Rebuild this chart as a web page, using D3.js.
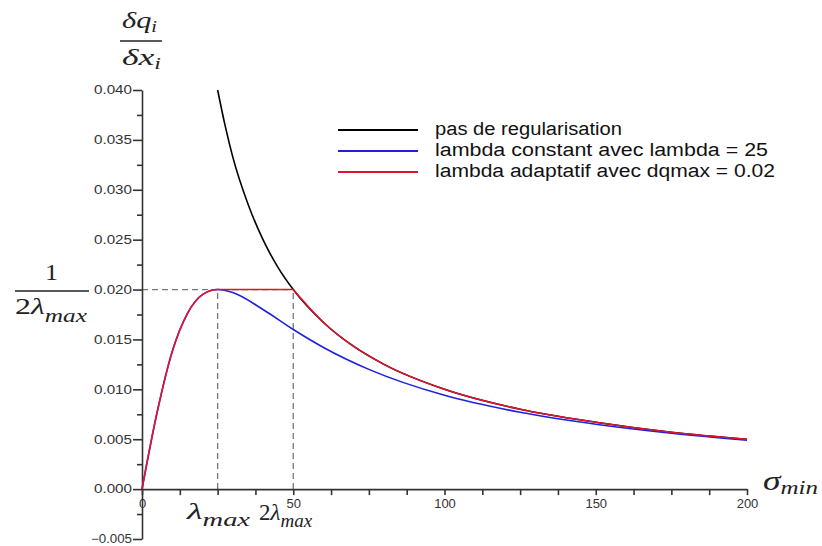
<!DOCTYPE html>
<html lang="en">
<head>
<meta charset="UTF-8">
<title>Regularisation</title>
<style>
    body { margin: 0; background: #fff; }
    svg text { font-family: 'Liberation Sans', Arial, sans-serif; }
    .axis path, .axis line { stroke: #333; stroke-width: 1.6; }
    .axis text { fill: #333; }
</style>
</head>
<body>
<svg id="chart" width="822" height="546"></svg>
<script src="https://d3js.org/d3.v7.min.js"></script>
<script>
    // values
    const sigmaBlack = [25, 27.5, 30, 35, 40, 45, 50, 60, 70, 80, 100, 125, 150, 175, 200];
    const noReg = [0.040, 0.0364, 0.0333, 0.0286, 0.025, 0.0222, 0.020, 0.0167, 0.0143, 0.0125, 0.010, 0.008, 0.0067, 0.0057, 0.005];

    const sigmaBlue = [0, 5, 10, 15, 20, 25, 30, 40, 50, 60, 75, 100, 125, 150, 175, 200];
    const lambdaConst = [0, 0.0077, 0.0138, 0.0176, 0.0195, 0.020, 0.0197, 0.018, 0.016, 0.0142, 0.012, 0.0094, 0.0077, 0.0065, 0.0056, 0.0049];

    const sigmaRed = [0, 5, 10, 15, 20, 25, 37.5, 50, 60, 70, 80, 100, 125, 150, 175, 200];
    const lambdaAdapt = [0, 0.0077, 0.0138, 0.0176, 0.0195, 0.020, 0.020, 0.020, 0.0167, 0.0143, 0.0125, 0.010, 0.008, 0.0067, 0.0057, 0.005];

    const seriesNames = ["pas de regularisation", "lambda constant avec lambda = 25", "lambda adaptatif avec dqmax = 0.02"];
    const seriesColors = ["#000000", "#1f1fe0", "#e0142e"];

    const xLabelTicks = [0, 50, 100, 150, 200];
    const yLabelTicks = [-0.005, 0, 0.005, 0.01, 0.015, 0.02, 0.025, 0.03, 0.035, 0.04];
    const lambdaMax = 25;
    const dqMax = 0.02;

    const serif = "'Liberation Serif', 'DejaVu Serif', serif";

    const svg = d3.select("#chart");
    const x = d3.scaleLinear().domain([0, 200]).range([142, 747]);
    const y = d3.scaleLinear().domain([-0.005, 0.04]).range([539, 90]);

    const xMinor = d3.range(0, 201, 12.5);
    const yMinor = d3.range(-2, 17).map(k => k * 0.0025);
    const isYLabel = d => yLabelTicks.some(t => Math.abs(t - d) < 1e-9);

    // dashed guides
    const guides = svg.append("g")
        .attr("stroke", "#777")
        .attr("stroke-width", 1.3)
        .attr("stroke-dasharray", "6,4")
        .attr("fill", "none");
    guides.append("line")
        .attr("x1", x(0)).attr("x2", x(2 * lambdaMax))
        .attr("y1", y(dqMax)).attr("y2", y(dqMax));
    [lambdaMax, 2 * lambdaMax].forEach(v => {
        guides.append("line")
            .attr("x1", x(v)).attr("x2", x(v))
            .attr("y1", y(0)).attr("y2", y(dqMax));
    });

    // axes
    svg.append("g")
        .attr("class", "axis")
        .attr("transform", `translate(0,${y(0)})`)
        .call(d3.axisBottom(x)
            .tickValues(xMinor)
            .tickSize(6)
            .tickSizeOuter(0)
            .tickFormat(d => xLabelTicks.includes(d) ? d3.format("d")(d) : ""))
        .call(g => g.selectAll(".tick text")
            .attr("y", 10)
            .attr("dy", "0.71em")
            .style("font-size", "13px"));

    svg.append("g")
        .attr("class", "axis")
        .attr("transform", `translate(${x(0)},0)`)
        .call(d3.axisLeft(y)
            .tickValues(yMinor)
            .tickSize(5)
            .tickSizeOuter(0)
            .tickFormat(d => isYLabel(d) ? d3.format(".3f")(d) : ""))
        .call(g => g.selectAll(".tick line").attr("x2", d => isYLabel(d) ? -9 : -5))
        .call(g => g.selectAll(".tick text")
            .filter(d => isYLabel(d))
            .attr("x", -10)
            .attr("textLength", d => d < 0 ? 41 : 38)
            .attr("lengthAdjust", "spacingAndGlyphs")
            .style("font-size", "12px"));

    // curves
    const line = d3.line()
        .x(d => x(d[0]))
        .y(d => y(d[1]))
        .curve(d3.curveMonotoneX);

    // the adaptive curve has a corner where the plateau ends, draw both sides separately
    const redPts = d3.zip(sigmaRed, lambdaAdapt);
    const kink = sigmaRed.indexOf(2 * lambdaMax);

    const curves = [
        line(d3.zip(sigmaBlack, noReg)),
        line(d3.zip(sigmaBlue, lambdaConst)),
        line(redPts.slice(0, kink + 1)) + line(redPts.slice(kink))
    ];

    svg.append("g")
        .selectAll("path")
        .data(curves)
        .join("path")
        .attr("d", d => d)
        .attr("fill", "none")
        .attr("stroke", (d, i) => seriesColors[i])
        .attr("stroke-width", 1.6);

    // legend
    const legendWidths = [187, 333, 340];
    const legend = svg.append("g").attr("transform", "translate(338,130)");
    seriesNames.forEach((name, i) => {
        legend.append("line")
            .attr("x1", 0).attr("x2", 80)
            .attr("y1", i * 21).attr("y2", i * 21)
            .attr("stroke", seriesColors[i])
            .attr("stroke-width", 2.2);
        legend.append("text")
            .attr("x", 97).attr("y", i * 21 + 5)
            .attr("textLength", legendWidths[i])
            .attr("lengthAdjust", "spacingAndGlyphs")
            .style("font-size", "18px")
            .style("fill", "#111")
            .text(name);
    });

    // math labels: parts are {t, sub, upright}
    function mathText(xp, yp, parts, size, subSize, subDy, width) {
        const t = svg.append("text")
            .attr("x", xp).attr("y", yp)
            .style("font-family", serif)
            .style("font-size", size + "px")
            .style("fill", "#222");
        parts.forEach(p => {
            const s = t.append("tspan").text(p.t)
                .style("font-family", serif)
                .style("font-style", p.upright ? "normal" : "italic");
            if (p.sub) s.attr("dy", subDy).style("font-size", subSize + "px");
        });
        if (width) t.attr("textLength", width).attr("lengthAdjust", "spacingAndGlyphs");
        return t;
    }

    // dq/dx
    mathText(122, 28, [{t: "δq"}, {t: "i", sub: true}], 24, 16, 4, 35);
    svg.append("line")
        .attr("x1", 120).attr("x2", 162).attr("y1", 41).attr("y2", 41)
        .attr("stroke", "#222").attr("stroke-width", 1.3);
    mathText(122, 65, [{t: "δx"}, {t: "i", sub: true}], 24, 16, 4, 39);

    // 1 / 2 lambda max
    mathText(45, 280, [{t: "1", upright: true}], 24, 0, 0, 13);
    svg.append("line")
        .attr("x1", 15).attr("x2", 89).attr("y1", 291).attr("y2", 291)
        .attr("stroke", "#222").attr("stroke-width", 1.5);
    mathText(15, 314, [{t: "2", upright: true}, {t: "λ"}, {t: "max", sub: true}], 24, 19, 8, 72);

    mathText(187, 519, [{t: "λ"}, {t: "max", sub: true}], 24, 19, 7, 63);
    mathText(259, 520, [{t: "2", upright: true}, {t: "λ"}, {t: "max", sub: true}], 23, 19, 7);

    mathText(763, 490, [{t: "σ"}, {t: "min", sub: true}], 27, 19, 4, 55);
</script>
</body>
</html>
